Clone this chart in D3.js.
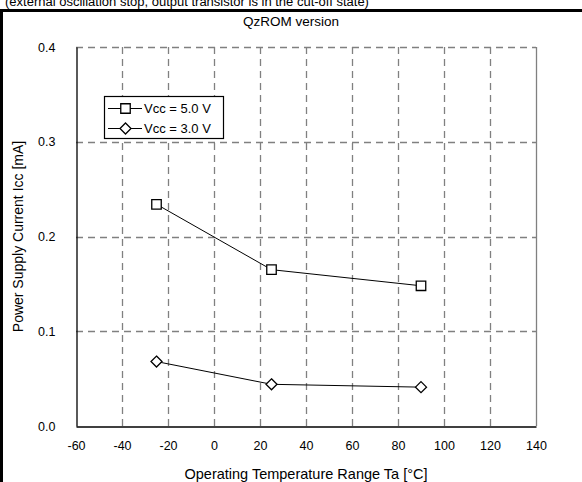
<!DOCTYPE html>
<html><head><meta charset="utf-8">
<script src="https://cdn.jsdelivr.net/npm/d3@7"></script>
<style>body{margin:0;background:#fff}svg{display:block;font-family:"Liberation Sans",Arial,sans-serif}</style>
</head><body><svg id="c" width="582" height="482"></svg>
<script>
const temps = [-25, 25, 90];
const vcc5 = [0.234, 0.165, 0.148];
const vcc3 = [0.068, 0.044, 0.041];
const seriesNames = ["Vcc = 5.0 V", "Vcc = 3.0 V"];
const xTicks = [-60, -40, -20, 0, 20, 40, 60, 80, 100, 120, 140];
const yTicks = [0.0, 0.1, 0.2, 0.3, 0.4];
const subtitle = "(external oscillation stop, output transistor is in the cut-off state)";
const title = "QzROM version";
const xTitle = "Operating Temperature Range Ta [°C]";
const yTitle = "Power Supply Current Icc [mA]";

const svg = d3.select("#c");
const L = 76, R = 536, T = 47, B = 426;
const x = d3.scaleLinear().domain([-60, 140]).range([L, R]);
const y = d3.scaleLinear().domain([0, 0.4]).range([B, T]);

// outer frame (partially visible, as in the reference)
svg.append("rect").attr("x", 1.5).attr("y", 10.5).attr("width", 700).attr("height", 700)
  .attr("fill", "none").attr("stroke", "#000").attr("stroke-width", 3);
svg.append("text").attr("x", 5).attr("y", 5.5).attr("font-size", 13).attr("fill", "#000").text(subtitle);
svg.append("text").attr("x", 291).attr("y", 26).attr("text-anchor", "middle").attr("font-size", 13.5).text(title);

// gridlines
const grid = svg.append("g").attr("stroke", "#808080").attr("stroke-width", 1.3).attr("stroke-dasharray", "7,5");
grid.selectAll("line.v").data(xTicks.filter(t => t > -60 && t < 140)).join("line")
  .attr("x1", d => Math.round(x(d)) + 0.5).attr("x2", d => Math.round(x(d)) + 0.5)
  .attr("y1", T).attr("y2", B);
grid.selectAll("line.h").data(yTicks.filter(t => t > 0)).join("line")
  .attr("x1", L).attr("x2", R)
  .attr("y1", d => Math.round(y(d)) + 0.5).attr("y2", d => Math.round(y(d)) + 0.5);
svg.append("line").attr("x1", R + 0.5).attr("x2", R + 0.5).attr("y1", T).attr("y2", B)
  .attr("stroke", "#808080").attr("stroke-width", 1.3);

// axes
const xAxis = svg.append("g").attr("transform", `translate(0,${B + 0.5})`)
  .call(d3.axisBottom(x).tickValues(xTicks).tickSize(0).tickPadding(15).tickFormat(d => String(d)));
const yAxis = svg.append("g").attr("transform", `translate(${L + 0.5},0)`)
  .call(d3.axisLeft(y).tickValues(yTicks).tickSize(0).tickPadding(21).tickFormat(d => d.toFixed(1)));
[xAxis, yAxis].forEach(a => {
  a.select(".domain").attr("stroke", "#000").attr("stroke-width", 1.3);
  a.selectAll("text").attr("font-size", 12.5).attr("font-family", "Liberation Sans, Arial, sans-serif").attr("fill", "#000");
});

svg.append("text").attr("x", 306).attr("y", 479).attr("text-anchor", "middle").attr("font-size", 14.5).text(xTitle);
svg.append("text").attr("transform", `translate(23,${(T + B) / 2}) rotate(-90)`).attr("text-anchor", "middle").attr("font-size", 14).text(yTitle);

// series
const line = d3.line().x(d => x(d[0])).y(d => y(d[1]));
const data5 = temps.map((t, i) => [t, vcc5[i]]);
const data3 = temps.map((t, i) => [t, vcc3[i]]);
svg.append("path").datum(data5).attr("d", line).attr("fill", "none").attr("stroke", "#000").attr("stroke-width", 1);
svg.append("path").datum(data3).attr("d", line).attr("fill", "none").attr("stroke", "#000").attr("stroke-width", 1);

const sq = d3.symbol().type(d3.symbolSquare).size(90);
const dmPath = "M0,-5.5L5.5,0L0,5.5L-5.5,0Z";
function markers(data, sym) {
  svg.append("g").selectAll("path").data(data).join("path")
    .attr("transform", d => `translate(${x(d[0])},${y(d[1])})`)
    .attr("d", sym).attr("fill", "#fff").attr("stroke", "#000").attr("stroke-width", 1.3);
}
markers(data5, sq);
markers(data3, dmPath);

// legend
const lg = svg.append("g");
lg.append("rect").attr("x", 104.5).attr("y", 96.5).attr("width", 119).attr("height", 42)
  .attr("fill", "#fff").attr("stroke", "#000").attr("stroke-width", 1.2);
const rows = [{ name: seriesNames[0], sym: sq, yy: 108 }, { name: seriesNames[1], sym: dmPath, yy: 128 }];
rows.forEach(r => {
  lg.append("line").attr("x1", 108).attr("x2", 142).attr("y1", r.yy + 0.5).attr("y2", r.yy + 0.5).attr("stroke", "#000").attr("stroke-width", 1);
  lg.append("path").attr("transform", `translate(125.5,${r.yy + 0.5})`).attr("d", r.sym)
    .attr("fill", "#fff").attr("stroke", "#000").attr("stroke-width", 1.3);
  lg.append("text").attr("x", 144).attr("y", r.yy + 4.5).attr("font-size", 13).text(r.name);
});
</script></body></html>
